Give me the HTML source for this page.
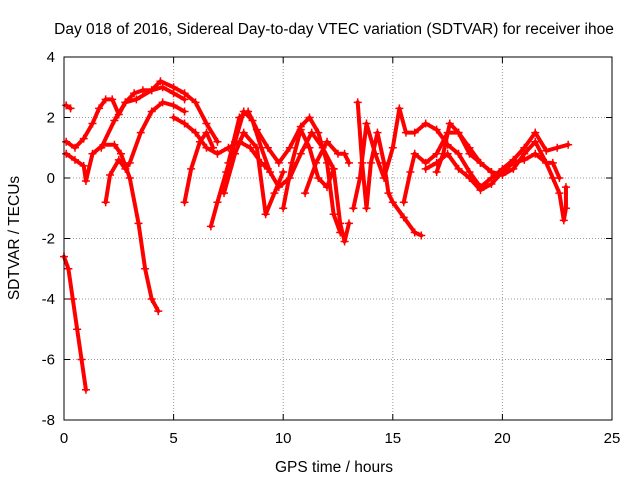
<!DOCTYPE html>
<html><head><meta charset="utf-8"><style>
body{margin:0;background:#fff;}
svg{display:block;font-family:"Liberation Sans",sans-serif;}
</style></head><body>
<svg id="chart" width="640" height="480">
<text x="334" y="34" font-size="15.5" text-anchor="middle">Day 018 of 2016, Sidereal Day-to-day VTEC variation (SDTVAR) for receiver ihoe</text>
<text x="334" y="472" font-size="15.5" text-anchor="middle">GPS time / hours</text>
<text transform="translate(19,238) rotate(-90)" font-size="15.5" text-anchor="middle">SDTVAR / TECUs</text>
<g id="grid"></g><g id="ticks"></g><g id="series"></g>
<rect x="64" y="57" width="548" height="363" fill="none" stroke="#000" stroke-width="1"/>
</svg>
<script>
const xTicks=[0,5,10,15,20,25];
const yTicks=[4,2,0,-2,-4,-6,-8];
const trackA=[[0.0,-2.6],[0.2,-3.0],[0.4,-4.0],[0.6,-5.0],[0.8,-6.0],[1.0,-7.0]];
const trackB=[[0.1,2.4],[0.3,2.3]];
const trackC=[[0.1,1.2],[0.5,1.0],[0.9,1.3],[1.3,1.8],[1.6,2.3],[1.9,2.6],[2.2,2.6],[2.5,2.1],[2.8,2.5],[3.2,2.8],[3.6,2.9],[4.0,2.9],[4.5,3.0],[5.0,2.8],[5.5,2.6]];
const trackD=[[0.1,0.8],[0.5,0.6],[0.9,0.4],[1.0,-0.1],[1.3,0.8],[1.8,1.1],[2.3,1.1],[2.6,0.8],[3.0,0.0],[3.4,-1.5],[3.7,-3.0],[4.0,-4.0],[4.3,-4.4]];
const trackE=[[1.9,-0.8],[2.1,0.1],[2.5,0.6],[2.8,0.3],[3.0,0.5],[3.5,1.5],[4.0,2.2],[4.5,2.5],[5.0,2.4],[5.5,2.2]];
const trackF=[[1.7,1.0],[2.3,1.9],[2.8,2.5],[3.3,2.6],[4.0,2.9],[4.4,3.2],[5.0,3.0],[5.5,2.8],[6.0,2.5],[6.5,1.8],[7.0,1.2]];
const trackG=[[5.0,2.0],[5.5,1.8],[6.0,1.5],[6.5,1.0],[7.0,0.8],[7.5,1.0],[8.0,1.2],[8.5,1.0],[9.0,0.5],[9.3,0.3]];
const trackH=[[5.5,-0.8],[5.8,0.3],[6.2,1.2],[6.5,1.5],[6.8,1.0]];
const trackI=[[6.7,-1.6],[7.0,-0.8],[7.4,0.2],[7.8,1.2],[8.2,2.2],[8.6,1.9],[9.0,1.0],[9.4,0.2],[9.8,-0.3],[10.3,0.0],[10.8,0.8],[11.3,1.5],[11.8,1.0],[12.3,0.3],[12.6,-1.5],[12.8,-2.1],[13.0,-1.5]];
const trackJ=[[7.3,-0.5],[7.8,0.8],[8.2,1.5],[8.8,1.0],[9.2,-1.2],[9.6,-0.5],[10.0,0.2]];
const trackK=[[7.5,0.5],[8.0,2.0],[8.4,2.2],[8.8,1.6],[9.3,1.0],[9.8,0.5],[10.3,1.0],[10.8,1.7],[11.2,2.0],[11.6,1.5],[12.0,0.5],[12.3,-1.2],[12.6,-1.8]];
const trackL=[[10.0,-1.0],[10.4,0.5],[10.8,1.6],[11.2,1.0],[11.6,0.0],[12.0,-0.3],[12.3,0.3]];
const trackM=[[11.0,-0.5],[11.5,0.5],[12.0,1.2],[12.5,0.8],[12.8,0.8],[13.0,0.5]];
const trackN=[[13.4,2.5],[13.6,0.5],[13.8,-1.0],[14.0,0.5],[14.3,1.5],[14.6,0.5],[14.8,-0.5],[15.0,-0.8],[15.5,-1.3],[16.0,-1.8],[16.3,-1.9]];
const trackO=[[13.2,-1.0],[13.5,0.0],[13.8,1.8],[14.2,0.8],[14.6,0.0],[15.0,1.0],[15.3,2.3],[15.6,1.5],[16.0,1.5],[16.5,1.8],[17.0,1.6],[17.5,1.1],[18.0,0.8],[18.5,0.2],[19.0,-0.3],[19.5,0.0],[20.0,0.3],[20.5,0.6],[21.0,1.0],[21.5,1.5],[22.0,0.9],[22.5,1.0],[23.0,1.1]];
const trackP=[[15.5,-0.8],[15.8,0.2],[16.0,0.8],[16.5,0.5],[17.0,0.8],[17.5,1.5],[18.0,1.5],[18.5,0.8],[19.0,0.5],[19.5,0.2],[20.0,0.1],[20.5,0.3],[21.0,0.8],[21.5,1.2],[22.0,0.5],[22.3,0.0],[22.6,-0.5],[22.8,-1.4],[22.9,-1.0],[22.9,-0.3]];
const trackQ=[[16.5,0.3],[17.0,0.5],[17.5,0.8],[18.0,0.3],[18.5,0.0],[19.0,-0.4],[19.5,-0.2],[20.0,0.2],[20.5,0.5],[21.0,0.6],[21.5,0.8],[22.0,0.5],[22.3,0.5],[22.6,0.0]];
const trackR=[[17.0,0.2],[17.3,0.8],[17.6,1.8],[18.0,1.5],[18.5,1.0],[19.0,0.5],[19.5,0.2]];
const tracks=[trackA,trackB,trackC,trackD,trackE,trackF,trackG,trackH,trackI,trackJ,trackK,trackL,trackM,trackN,trackO,trackP,trackQ,trackR];

const X0=64,X1=612,Y0=420,Y1=57,xmin=0,xmax=25,ymin=-8,ymax=4;
const sx=v=>X0+(v-xmin)/(xmax-xmin)*(X1-X0);
const sy=v=>Y0-(v-ymin)/(ymax-ymin)*(Y0-Y1);
const NS="http://www.w3.org/2000/svg";
function mk(t,a,p){const e=document.createElementNS(NS,t);for(const k in a)e.setAttribute(k,a[k]);p.appendChild(e);return e;}
const grid=document.getElementById('grid'),ticks=document.getElementById('ticks'),ser=document.getElementById('series');
xTicks.forEach(v=>{const x=sx(v);
 if(v>xmin&&v<xmax){const g=mk('line',{x1:x,x2:x,y1:Y1,y2:Y0,stroke:'#999','stroke-dasharray':'1,2','stroke-width':1},grid);
 }
 mk('line',{x1:x,x2:x,y1:Y0,y2:Y0-6,stroke:'#000'},ticks);mk('line',{x1:x,x2:x,y1:Y1,y2:Y1+6,stroke:'#000'},ticks);
 const t=mk('text',{x:x,y:Y0+23,'font-size':15,'text-anchor':'middle'},ticks);t.textContent=v;
 });
yTicks.forEach(v=>{const y=sy(v);
 if(v>ymin&&v<ymax){const g=mk('line',{x1:X0,x2:X1,y1:y,y2:y,stroke:'#999','stroke-dasharray':'1,2','stroke-width':1},grid);
 }
 mk('line',{x1:X0,x2:X0+6,y1:y,y2:y,stroke:'#000'},ticks);mk('line',{x1:X1,x2:X1-6,y1:y,y2:y,stroke:'#000'},ticks);
 const t=mk('text',{x:X0-9,y:y+5,'font-size':15,'text-anchor':'end'},ticks);t.textContent=v;
 });
tracks.forEach((tr,i)=>{
 const pl=mk('polyline',{points:tr.map(p=>sx(p[0])+','+sy(p[1])).join(' '),fill:'none',stroke:'#f00','stroke-width':4,'stroke-linejoin':'round','stroke-linecap':'round'},ser);
 
 
 tr.forEach(p=>{const x=sx(p[0]),y=sy(p[1]);
  const m=mk('path',{d:`M${x-4},${y}H${x+4}M${x},${y-4}V${y+4}`,stroke:'#f00','stroke-width':1.5},ser);
  
  });
});
</script>
</body></html>
